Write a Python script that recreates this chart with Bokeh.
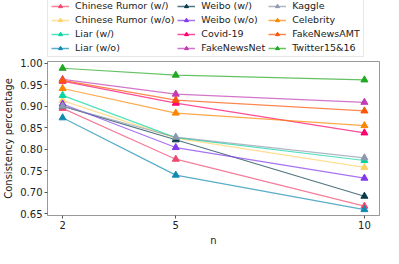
from bokeh.plotting import figure
from bokeh.layouts import column
from bokeh.models import Legend, LegendItem, FixedTicker, NumeralTickFormatter, Range1d
from bokeh.embed import file_html
from bokeh.resources import INLINE

n_values = [2, 5, 10]
series_names = [
    "Chinese Rumor (w/)", "Chinese Rumor (w/o)", "Liar (w/)", "Liar (w/o)",
    "Weibo (w/)", "Weibo (w/o)", "Covid-19", "FakeNewsNet",
    "Kaggle", "Celebrity", "FakeNewsAMT", "Twitter15&16",
]
chinese_rumor_w = [0.895, 0.777, 0.668]
chinese_rumor_wo = [0.913, 0.826, 0.758]
liar_w = [0.925, 0.827, 0.774]
liar_wo = [0.873, 0.740, 0.660]
weibo_w = [0.900, 0.822, 0.691]
weibo_wo = [0.905, 0.804, 0.733]
covid19 = [0.958, 0.907, 0.838]
fakenewsnet = [0.962, 0.928, 0.909]
kaggle = [0.900, 0.828, 0.780]
celebrity = [0.941, 0.884, 0.855]
fakenewsamt = [0.960, 0.914, 0.889]
twitter1516 = [0.988, 0.972, 0.961]
y_ticks = [0.65, 0.70, 0.75, 0.80, 0.85, 0.90, 0.95, 1.00]

series_values = [chinese_rumor_w, chinese_rumor_wo, liar_w, liar_wo,
                 weibo_w, weibo_wo, covid19, fakenewsnet,
                 kaggle, celebrity, fakenewsamt, twitter1516]
colors = ["#EF476F", "#FFD166", "#06D6A0", "#118AB2",
          "#073B4C", "#8338EC", "#FF006E", "#C13BB3",
          "#8D99AE", "#FB8500", "#FB5607", "#22A822"]

FONT = "DejaVu Sans"

p = figure(width=383, height=190, output_backend="svg", toolbar_location=None,
           x_range=Range1d(1.6, 10.4), y_range=Range1d(0.6463, 1.0037),
           min_border_left=0, min_border_right=4, min_border_top=3, min_border_bottom=0)

# legend strip above the chart (its ranges keep the series out of view)
lg = figure(width=383, height=58, output_backend="svg", toolbar_location=None,
            x_range=Range1d(100, 101), y_range=Range1d(0, 1),
            x_axis_location=None, y_axis_location=None, min_border=0)
lg.grid.visible = False
lg.outline_line_color = None

items = []
for name, vals, c in zip(series_names, series_values, colors):
    p.line(n_values, vals, line_color=c, line_width=1.2, line_alpha=0.7)
    p.scatter(n_values, vals, marker="triangle", size=7, fill_color=c, line_color=c)
    l2 = lg.line(n_values, vals, line_color=c, line_width=1.5, line_alpha=0.7)
    m2 = lg.scatter(n_values, vals, marker="triangle", size=6, fill_color=c, line_color=c)
    items.append(LegendItem(label=name, renderers=[l2, m2]))

p.xgrid.visible = False
p.ygrid.visible = False
p.outline_line_color = "#999999"
p.outline_line_width = 1

for ax in (p.xaxis[0], p.yaxis[0]):
    ax.axis_line_color = "#999999"
    ax.major_tick_line_color = "#555555"
    ax.minor_tick_line_color = None
    ax.major_tick_out = 3
    ax.major_tick_in = 0
    ax.major_label_text_font = FONT
    ax.major_label_text_font_size = "10px"
    ax.major_label_text_color = "#222222"
    ax.axis_label_text_font = FONT
    ax.axis_label_text_font_size = "10px"
    ax.axis_label_text_font_style = "normal"
    ax.axis_label_text_color = "#222222"
    ax.major_label_standoff = 2
    ax.axis_label_standoff = 3

p.xaxis.ticker = FixedTicker(ticks=n_values)
p.xaxis.axis_label = "n"
p.yaxis.ticker = FixedTicker(ticks=y_ticks)
p.yaxis.formatter = NumeralTickFormatter(format="0.00")
p.yaxis.axis_label = "Consistency percentage"

legend = Legend(items=items, orientation="vertical", nrows=4,
                label_text_font=FONT, label_text_font_size="9.5px",
                label_text_color="#222222",
                glyph_width=18, glyph_height=10, label_height=10,
                label_standoff=6, spacing=3, padding=3, margin=0,
                border_line_color="#d0d0d0", border_line_width=1,
                background_fill_alpha=1.0, location=(0, 1))
lg.add_layout(legend)

layout = column(lg, p, spacing=0)
open("out.html", "w").write(file_html(layout, INLINE))
